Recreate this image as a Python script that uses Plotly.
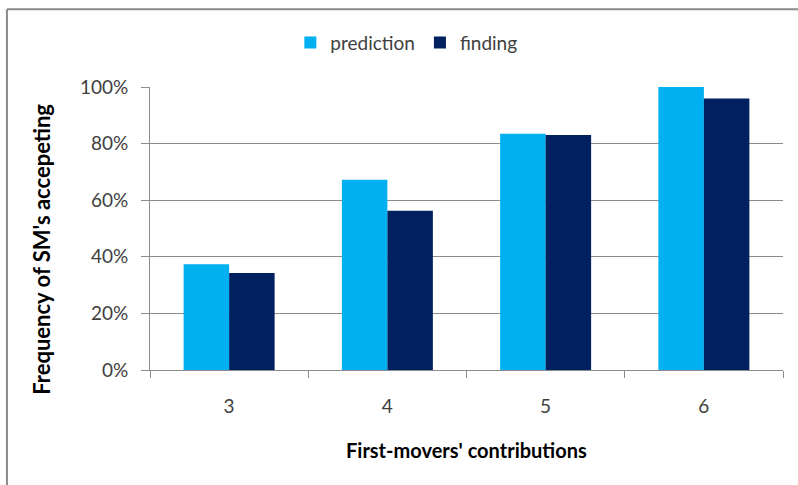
import plotly.graph_objects as go

# Category labels and series values (share of second movers accepting)
contributions = ["3", "4", "5", "6"]
prediction = [0.374, 0.672, 0.835, 1.0]
finding = [0.343, 0.5625, 0.830, 0.959]

FONT = "Lato"
GRID = "#8c8c8c"
TICK_TEXT = "#404040"

fig = go.Figure()
fig.add_trace(go.Bar(name="prediction", x=contributions, y=prediction,
                     marker=dict(color="#00B0F0", line=dict(width=0))))
fig.add_trace(go.Bar(name="finding", x=contributions, y=finding,
                     marker=dict(color="#002060", line=dict(width=0))))

fig.update_layout(
    width=798, height=485,
    margin=dict(l=150, r=15, t=87, b=115),
    paper_bgcolor="white", plot_bgcolor="white",
    barmode="group", bargap=0.425, bargroupgap=0,
    font=dict(family=FONT, size=18, color=TICK_TEXT),
    showlegend=True,
    legend=dict(orientation="h", x=0.405, xanchor="center", y=1.157, yanchor="middle",
                font=dict(family=FONT, size=19, color=TICK_TEXT),
                itemwidth=30, traceorder="normal"),
    xaxis=dict(showline=True, linecolor=GRID, linewidth=1,
               ticks="outside", ticklen=7, tickcolor=GRID, tickson="boundaries",
               ticklabelstandoff=19,
               showgrid=False, tickfont=dict(size=19, color=TICK_TEXT)),
    yaxis=dict(range=[0, 1], dtick=0.2, tickformat=".0%",
               showline=True, linecolor=GRID, linewidth=1,
               ticks="outside", ticklen=8, tickcolor=GRID,
               ticklabelstandoff=9,
               showgrid=True, gridcolor=GRID, gridwidth=1,
               zeroline=False, tickfont=dict(size=19, color=TICK_TEXT)),
    annotations=[
        dict(text="<b>First-movers' contributions</b>", xref="paper", yref="paper",
             x=0.5, y=-0.283, xanchor="center", yanchor="middle", showarrow=False,
             font=dict(family=FONT, size=20, color="black")),
        dict(text="<b>Frequency of SM's accepeting</b>", xref="paper", yref="paper",
             x=-0.1706, y=0.425, xanchor="center", yanchor="middle", showarrow=False,
             textangle=-90, font=dict(family=FONT, size=22, color="black")),
    ],
    shapes=[
        # outer chart-area frame (top and left edges)
        dict(type="line", xref="paper", yref="paper", x0=-0.226, x1=1.05,
             y0=1.275, y1=1.275, line=dict(color="#8a8a8a", width=2)),
        dict(type="line", xref="paper", yref="paper", x0=-0.226, x1=-0.226,
             y0=1.275, y1=-0.5, line=dict(color="#8a8a8a", width=2)),
    ],
)

fig.write_html("out.html")
